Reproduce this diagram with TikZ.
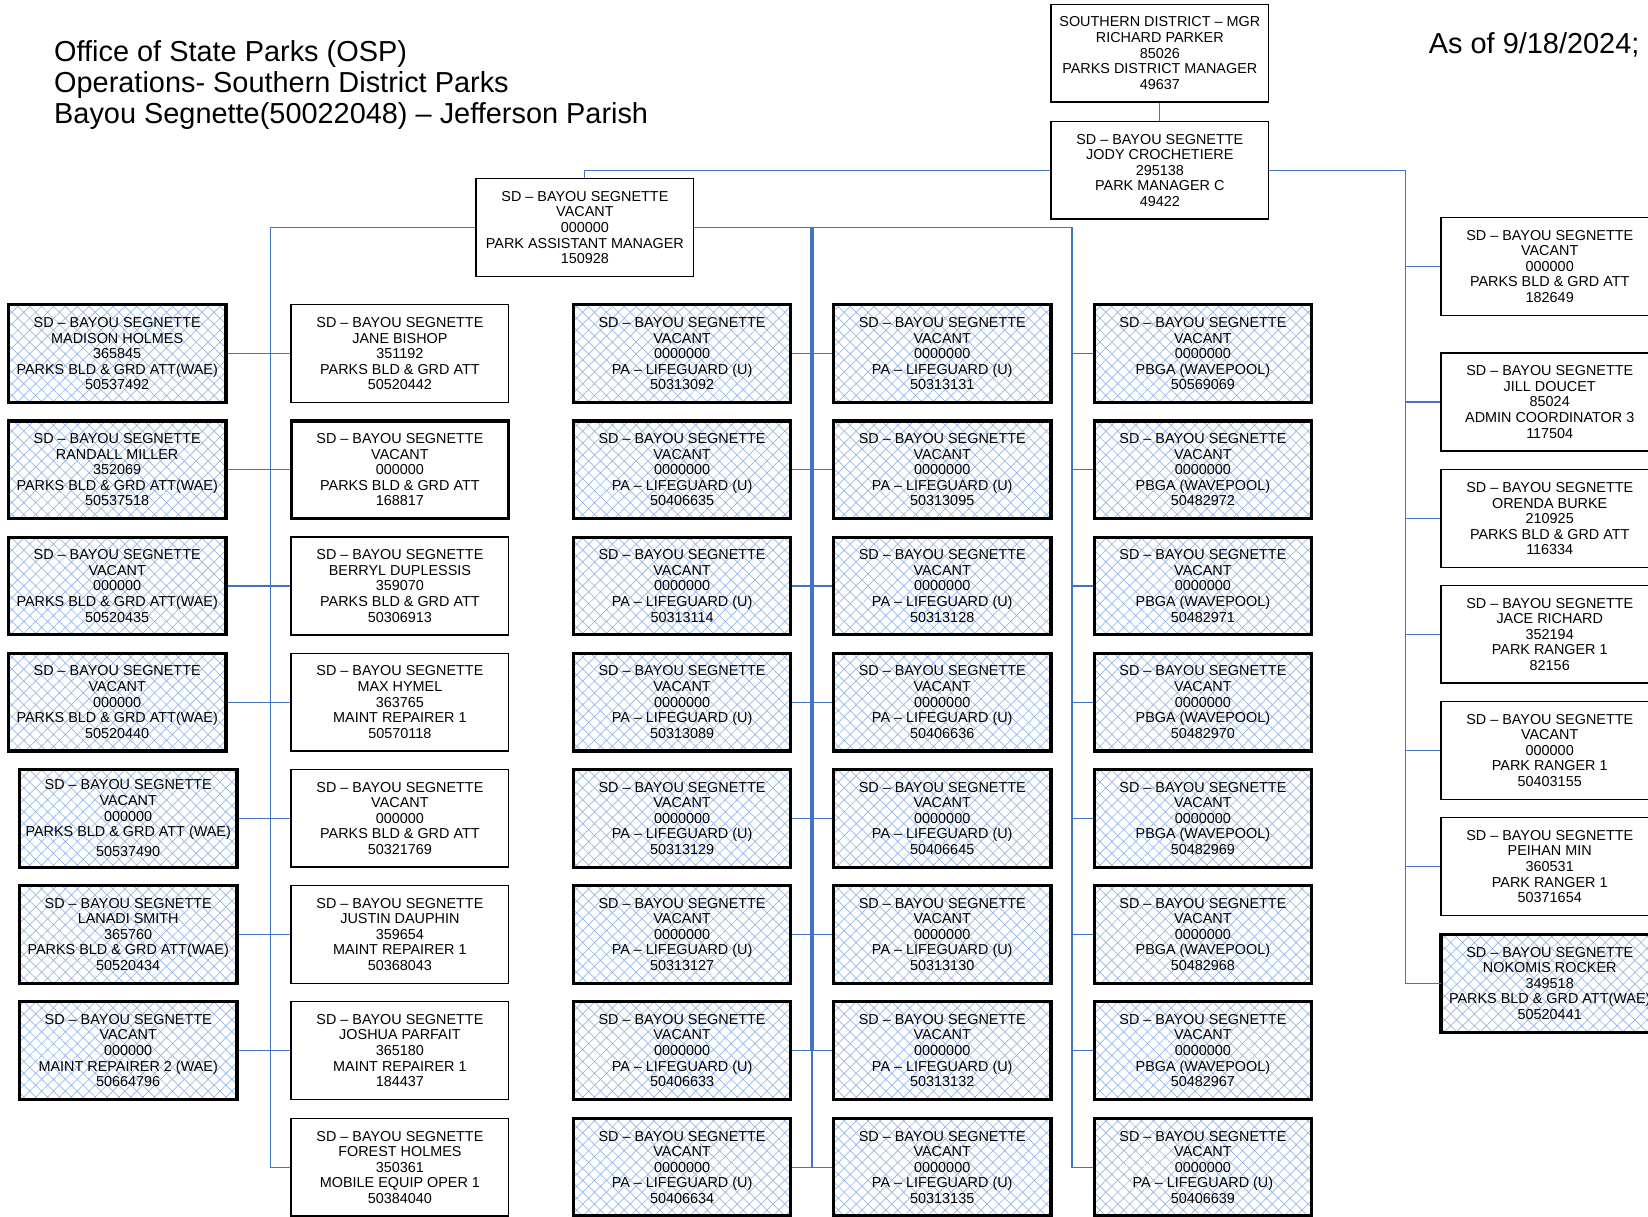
\documentclass[tikz,border=0pt]{standalone}
\usepackage{fontspec}
\setmainfont{Liberation Sans}
\usepackage{xcolor}
\usepackage{tikz}
\usetikzlibrary{patterns.meta}

\definecolor{lineblue}{RGB}{68,114,196}
\definecolor{hatch}{RGB}{150,182,232}
\newcommand{\boxfont}{\fontsize{13.7}{14.8}\selectfont}
\newcommand{\titlefont}{\fontsize{27.5}{30}\selectfont}

\begin{document}
\begin{tikzpicture}[x=1pt,y=-1pt]
	\useasboundingbox (0,0) rectangle (1568,1157);
	\clip (0,0) rectangle (1568,1157);
	\draw (48,51) node[anchor=west,font=\titlefont] {Office of State Parks (OSP)};
	\draw (48,81) node[anchor=west,font=\titlefont] {Operations- Southern District Parks};
	\draw (48,110) node[anchor=west,font=\titlefont] {Bayou Segnette(50022048) -- Jefferson Parish};
	\draw (1356,43) node[anchor=west,font=\titlefont] {As of 9/18/2024;};
	\tikzstyle{every node}=[draw,shape=rectangle,line width=1.3pt,minimum width=207pt,minimum height=93pt,inner sep=0pt,align=center,font=\boxfont];
	\tikzstyle{wae}=[line width=3pt,pattern={Hatch[angle=45,distance=8pt,line width=0.65pt]},pattern color=hatch];
	\tikzstyle{heavy}=[line width=3pt];
	\tikzstyle{conn}=[draw=lineblue,line width=1.1pt];
	\node (mgr) at (1103.5,50.5) {SOUTHERN DISTRICT -- MGR\\RICHARD PARKER\\85026\\PARKS DISTRICT MANAGER\\49637};
	\node (jody) at (1103.5,162) {SD -- BAYOU SEGNETTE\\JODY CROCHETIERE\\295138\\PARK MANAGER C\\49422};
	\node (pam) at (556.5,216.5) {SD -- BAYOU SEGNETTE\\VACANT\\000000\\PARK ASSISTANT MANAGER\\150928};
	\node (rc1) at (1474.5,253.5) {SD -- BAYOU SEGNETTE\\VACANT\\000000\\PARKS BLD \& GRD ATT\\182649};
	\node (rc2) at (1474.5,382.5) {SD -- BAYOU SEGNETTE\\JILL DOUCET\\85024\\ADMIN COORDINATOR 3\\117504};
	\node (rc3) at (1474.5,493.5) {SD -- BAYOU SEGNETTE\\ORENDA BURKE\\210925\\PARKS BLD \& GRD ATT\\116334};
	\node (rc4) at (1474.5,603.5) {SD -- BAYOU SEGNETTE\\JACE RICHARD\\352194\\PARK RANGER 1\\82156};
	\node (rc5) at (1474.5,714) {SD -- BAYOU SEGNETTE\\VACANT\\000000\\PARK RANGER 1\\50403155};
	\node (rc6) at (1474.5,824.5) {SD -- BAYOU SEGNETTE\\PEIHAN MIN\\360531\\PARK RANGER 1\\50371654};
	\node[wae] (rc7) at (1474.5,935.5) {SD -- BAYOU SEGNETTE\\NOKOMIS ROCKER\\349518\\PARKS BLD \& GRD ATT(WAE)\\50520441};
	\node[wae] (c1r1) at (111.5,336.5) {SD -- BAYOU SEGNETTE\\MADISON HOLMES\\365845\\PARKS BLD \& GRD ATT(WAE)\\50537492};
	\node[wae] (c1r2) at (111.5,447) {SD -- BAYOU SEGNETTE\\RANDALL MILLER\\352069\\PARKS BLD \& GRD ATT(WAE)\\50537518};
	\node[wae] (c1r3) at (111.5,557.5) {SD -- BAYOU SEGNETTE\\VACANT\\000000\\PARKS BLD \& GRD ATT(WAE)\\50520435};
	\node[wae] (c1r4) at (111.5,668) {SD -- BAYOU SEGNETTE\\VACANT\\000000\\PARKS BLD \& GRD ATT(WAE)\\50520440};
	\node[wae] (c1r5) at (122,778.5) {SD -- BAYOU SEGNETTE\\VACANT\\000000\\PARKS BLD \& GRD ATT (WAE)\\[4pt]50537490};
	\node[wae] (c1r6) at (122,889) {SD -- BAYOU SEGNETTE\\LANADI SMITH\\365760\\PARKS BLD \& GRD ATT(WAE)\\50520434};
	\node[wae] (c1r7) at (122,999.5) {SD -- BAYOU SEGNETTE\\VACANT\\000000\\MAINT REPAIRER 2 (WAE)\\50664796};
	\node (c2r1) at (380.5,336.5) {SD -- BAYOU SEGNETTE\\JANE BISHOP\\351192\\PARKS BLD \& GRD ATT\\50520442};
	\node[heavy] (c2r2) at (380.5,447) {SD -- BAYOU SEGNETTE\\VACANT\\000000\\PARKS BLD \& GRD ATT\\168817};
	\node (c2r3) at (380.5,557.5) {SD -- BAYOU SEGNETTE\\BERRYL DUPLESSIS\\359070\\PARKS BLD \& GRD ATT\\50306913};
	\node (c2r4) at (380.5,668) {SD -- BAYOU SEGNETTE\\MAX HYMEL\\363765\\MAINT REPAIRER 1\\50570118};
	\node (c2r5) at (380.5,778.5) {SD -- BAYOU SEGNETTE\\VACANT\\000000\\PARKS BLD \& GRD ATT\\50321769};
	\node (c2r6) at (380.5,889) {SD -- BAYOU SEGNETTE\\JUSTIN DAUPHIN\\359654\\MAINT REPAIRER 1\\50368043};
	\node (c2r7) at (380.5,999.5) {SD -- BAYOU SEGNETTE\\JOSHUA PARFAIT\\365180\\MAINT REPAIRER 1\\184437};
	\node (c2r8) at (380.5,1110.5) {SD -- BAYOU SEGNETTE\\FOREST HOLMES\\350361\\MOBILE EQUIP OPER 1\\50384040};
	\node[wae] (c3r1) at (649,336.5) {SD -- BAYOU SEGNETTE\\VACANT\\0000000\\PA -- LIFEGUARD (U)\\50313092};
	\node[wae] (c3r2) at (649,447) {SD -- BAYOU SEGNETTE\\VACANT\\0000000\\PA -- LIFEGUARD (U)\\50406635};
	\node[wae] (c3r3) at (649,557.5) {SD -- BAYOU SEGNETTE\\VACANT\\0000000\\PA -- LIFEGUARD (U)\\50313114};
	\node[wae] (c3r4) at (649,668) {SD -- BAYOU SEGNETTE\\VACANT\\0000000\\PA -- LIFEGUARD (U)\\50313089};
	\node[wae] (c3r5) at (649,778.5) {SD -- BAYOU SEGNETTE\\VACANT\\0000000\\PA -- LIFEGUARD (U)\\50313129};
	\node[wae] (c3r6) at (649,889) {SD -- BAYOU SEGNETTE\\VACANT\\0000000\\PA -- LIFEGUARD (U)\\50313127};
	\node[wae] (c3r7) at (649,999.5) {SD -- BAYOU SEGNETTE\\VACANT\\0000000\\PA -- LIFEGUARD (U)\\50406633};
	\node[wae] (c3r8) at (649,1110.5) {SD -- BAYOU SEGNETTE\\VACANT\\0000000\\PA -- LIFEGUARD (U)\\50406634};
	\node[wae] (c4r1) at (896.5,336.5) {SD -- BAYOU SEGNETTE\\VACANT\\0000000\\PA -- LIFEGUARD (U)\\50313131};
	\node[wae] (c4r2) at (896.5,447) {SD -- BAYOU SEGNETTE\\VACANT\\0000000\\PA -- LIFEGUARD (U)\\50313095};
	\node[wae] (c4r3) at (896.5,557.5) {SD -- BAYOU SEGNETTE\\VACANT\\0000000\\PA -- LIFEGUARD (U)\\50313128};
	\node[wae] (c4r4) at (896.5,668) {SD -- BAYOU SEGNETTE\\VACANT\\0000000\\PA -- LIFEGUARD (U)\\50406636};
	\node[wae] (c4r5) at (896.5,778.5) {SD -- BAYOU SEGNETTE\\VACANT\\0000000\\PA -- LIFEGUARD (U)\\50406645};
	\node[wae] (c4r6) at (896.5,889) {SD -- BAYOU SEGNETTE\\VACANT\\0000000\\PA -- LIFEGUARD (U)\\50313130};
	\node[wae] (c4r7) at (896.5,999.5) {SD -- BAYOU SEGNETTE\\VACANT\\0000000\\PA -- LIFEGUARD (U)\\50313132};
	\node[wae] (c4r8) at (896.5,1110.5) {SD -- BAYOU SEGNETTE\\VACANT\\0000000\\PA -- LIFEGUARD (U)\\50313135};
	\node[wae] (c5r1) at (1144.5,336.5) {SD -- BAYOU SEGNETTE\\VACANT\\0000000\\PBGA (WAVEPOOL)\\50569069};
	\node[wae] (c5r2) at (1144.5,447) {SD -- BAYOU SEGNETTE\\VACANT\\0000000\\PBGA (WAVEPOOL)\\50482972};
	\node[wae] (c5r3) at (1144.5,557.5) {SD -- BAYOU SEGNETTE\\VACANT\\0000000\\PBGA (WAVEPOOL)\\50482971};
	\node[wae] (c5r4) at (1144.5,668) {SD -- BAYOU SEGNETTE\\VACANT\\0000000\\PBGA (WAVEPOOL)\\50482970};
	\node[wae] (c5r5) at (1144.5,778.5) {SD -- BAYOU SEGNETTE\\VACANT\\0000000\\PBGA (WAVEPOOL)\\50482969};
	\node[wae] (c5r6) at (1144.5,889) {SD -- BAYOU SEGNETTE\\VACANT\\0000000\\PBGA (WAVEPOOL)\\50482968};
	\node[wae] (c5r7) at (1144.5,999.5) {SD -- BAYOU SEGNETTE\\VACANT\\0000000\\PBGA (WAVEPOOL)\\50482967};
	\node[wae] (c5r8) at (1144.5,1110.5) {SD -- BAYOU SEGNETTE\\VACANT\\0000000\\PA -- LIFEGUARD (U)\\50406639};
	\coordinate (lsp) at (257,216.5);
	\coordinate (msp) at (772.5,216.5);
	\coordinate (rsp) at (1020,216.5);
	\coordinate (jsp) at (1337,162);
	\draw[conn] (mgr)--(jody) (jody.west) -| (pam.north)
			(jody.east)--(jsp) |- (rc7.west)
			(jsp) |- (rc1.west) (jsp) |- (rc2.west) (jsp) |- (rc3.west)
			(jsp) |- (rc4.west) (jsp) |- (rc5.west) (jsp) |- (rc6.west);
	\draw[conn] (pam.west)--(lsp) |- (c2r8.west)
			(c1r1.east)--(c2r1.west) (c1r2.east)--(c2r2.west) (c1r3.east)--(c2r3.west)
			(c1r4.east)--(c2r4.west) (c1r5.east)--(c2r5.west) (c1r6.east)--(c2r6.west)
			(c1r7.east)--(c2r7.west);
	\draw[conn] (pam.east)--(rsp) |- (c5r8.west)
			(rsp) |- (c5r1.west) (rsp) |- (c5r2.west) (rsp) |- (c5r3.west)
			(rsp) |- (c5r4.west) (rsp) |- (c5r5.west) (rsp) |- (c5r6.west)
			(rsp) |- (c5r7.west);
	\draw[conn] (msp) |- (c3r8.east)
			(c3r1.east)--(c4r1.west) (c3r2.east)--(c4r2.west) (c3r3.east)--(c4r3.west)
			(c3r4.east)--(c4r4.west) (c3r5.east)--(c4r5.west) (c3r6.east)--(c4r6.west)
			(c3r7.east)--(c4r7.west) (c3r8.east)--(c4r8.west);
	\draw[conn,line width=3.5pt] (msp)--(msp |- c3r7.east);
\end{tikzpicture}
\end{document}
